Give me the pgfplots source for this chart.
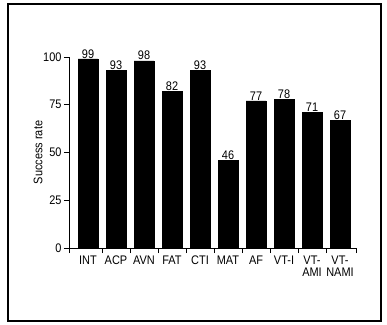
\documentclass[border=0pt]{standalone}
\usepackage{fontspec}
\setmainfont{Liberation Sans}[FakeStretch=0.88]
\usepackage{pgfplots}
\pgfplotsset{compat=1.18}
\begin{document}
\begin{tikzpicture}
\path[use as bounding box] (-69bp,-77bp) rectangle (318bp,248bp);
\draw[line width=2bp] (-61bp,-73bp) rectangle (312bp,244bp);
\begin{axis}[
  at={(0,0)}, anchor=south west,
  scale only axis,
  width=287bp, height=191bp,
  xmin=-0.679, xmax=9.571,
  ymin=0, ymax=100,
  clip=false,
  axis x line=bottom, axis y line=left,
  axis line style={-, line width=0.8bp},
  every tick/.style={black, line width=0.8bp},
  tick align=outside,
  major tick length=5bp, minor tick length=5bp,
  xtick={0,...,9},
  xticklabels={INT,ACP,AVN,FAT,CTI,MAT,AF,VT-I,{VT-\\AMI},{VT-\\NAMI}},
  major x tick style={draw=none},
  minor xtick={0.5,1.5,...,8.5,9.571},
  extra x ticks={-0.679}, extra x tick labels={},
  extra x tick style={major tick length=5bp, major x tick style={draw=black}},
  ytick={0,25,50,75,100},
  /pgf/number format/assume math mode=true,
  tick label style={font=\fontsize{12.5}{12}\selectfont},
  yticklabel style={xshift=1bp},
  xticklabel style={align=center, yshift=1bp},
  ylabel={Success rate},
  every axis y label/.style={at={(axis description cs:0,0.5)}, xshift=-31bp, rotate=90, anchor=center, font=\fontsize{12.5}{12}\selectfont},
  ybar, bar width=0.7,
  nodes near coords,
  every node near coord/.append style={font=\fontsize{12.5}{12}\selectfont, inner sep=0.5bp},
]
\addplot[fill=black, draw=black] coordinates {
  (0,99) (1,93) (2,98) (3,82) (4,93) (5,46) (6,77) (7,78) (8,71) (9,67)
};
\end{axis}
\end{tikzpicture}
\end{document}
